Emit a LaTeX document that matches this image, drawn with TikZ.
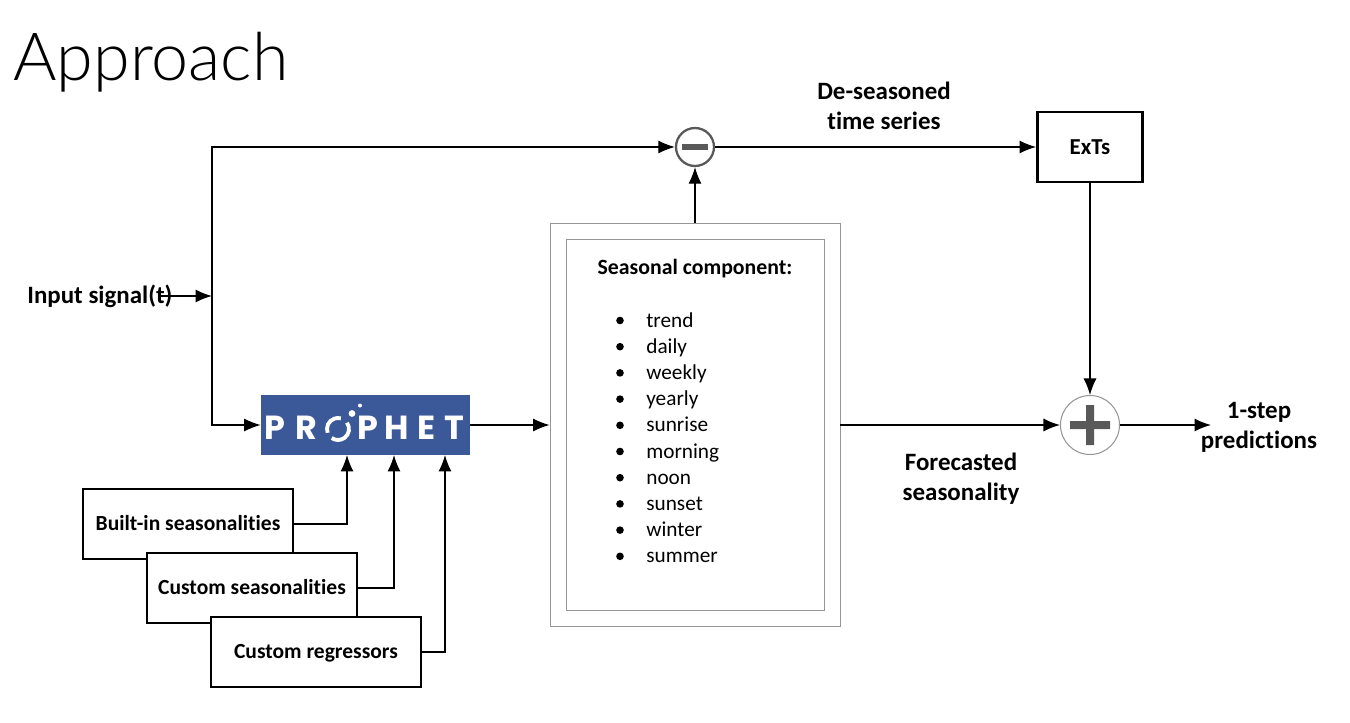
\documentclass[tikz,border=0pt]{standalone}
\usepackage{fontspec}
\setmainfont[Ligatures=NoCommon]{Carlito}
\newfontfamily\logofont{Poppins}
\newfontfamily\titlefont[UprightFont=* Light]{Lato}
\usetikzlibrary{arrows.meta, positioning, calc}
\definecolor{prophetblue}{RGB}{59,88,152}
\definecolor{signgray}{RGB}{89,89,89}
\definecolor{framegray}{RGB}{150,150,150}

\tikzset{
  flow/.style={draw=black, line width=0.7pt, -{Latex[length=3.3mm, width=2.6mm]}},
  inbox/.style={draw=black, line width=1.6pt, fill=white, minimum width=4.2cm, minimum height=1.4cm, text height=9.8pt, text depth=2pt, font=\fontsize{12.25}{14}\selectfont\bfseries},
  label/.style={font=\fontsize{14.2}{17}\selectfont\bfseries, align=center},
  frame/.style={draw=framegray, line width=0.5pt},
  logoletter/.style={text=white, inner sep=0pt, font=\fontsize{19}{18}\selectfont\logofont\bfseries},
  listitem/.style={anchor=base west, inner sep=0pt, font=\fontsize{12.1}{14}\selectfont}
}

\begin{document}
\begin{tikzpicture}[x=0.02cm, y=-0.02cm]
  \useasboundingbox (0,0) rectangle (1350,723);

  \node[anchor=base west, inner sep=0pt, font=\fontsize{37.8}{44}\selectfont\titlefont] (title) at (13,81) {Approach};

  % inputs
  \node[label, anchor=west, inner sep=0pt] (input) at (27,296) {Input signal(t)};
  \coordinate (start) at (160,296);
  \coordinate (split) at (212,296);

  % prophet block
  \node[fill=prophetblue, minimum width=4.18cm, minimum height=1.2cm, inner sep=0pt] (prophet) at (365.5,425) {};
  \foreach \letter/\xpos [count=\i] in {P/275, R/306, P/368, H/397, E/427, T/454}
    \node[logoletter] (letter\i) at (\xpos,428) {\letter};
  \draw[white, line width=2.2pt] (338,429) ++(160:11) arc (160:285:11);
  \draw[white, line width=2.2pt] (338,429) ++(-35:11) arc (-35:125:11);
  \fill[white] (352,413.5) circle (3.4) (360,405.5) circle (2);

  % regressor boxes
  \node[inbox] (builtin) at (188,524) {Built-in seasonalities};
  \node[inbox] (customseas) at (252,588) {Custom seasonalities};
  \node[inbox] (customreg) at (316,652) {Custom regressors};

  % seasonal component
  \node[frame, minimum width=5.8cm, minimum height=8.06cm] (outer) at (695,424.5) {};
  \node[frame, minimum width=5.16cm, minimum height=7.42cm] (inner) at (695,424.5) {};
  \node[font=\fontsize{12.4}{14}\selectfont\bfseries] (seasonal) at (695,268.5) {Seasonal component:};
  \foreach \name [count=\i from 0] in {trend, daily, weekly, yearly, sunrise, morning, noon, sunset, winter, summer} {
    \fill (620,320.5+26.2*\i) circle (3.8);
    \node[listitem] (item\i) at (646,327+26.2*\i) {\name};
  }

  % summing points
  \node[circle, draw=signgray, line width=1.3pt, fill=white, minimum size=0.76cm, inner sep=0pt] (minus) at (695,147) {};
  \fill[signgray] (682,144) rectangle (708,150);
  \node[circle, draw=framegray, line width=0.6pt, fill=white, minimum size=1.18cm, inner sep=0pt] (plus) at (1090,425) {};
  \fill[signgray] (1070,421) rectangle (1110,429) (1086,405) rectangle (1094,445);

  \node[draw=black, line width=1.6pt, minimum width=2.1cm, minimum height=1.4cm, font=\fontsize{13}{14}\selectfont\bfseries] (exts) at (1090,147) {ExTs};

  % labels
  \node[label] (deseason) at (884,106) {De-seasoned\\time series};
  \node[label] (forecast) at (961,478.5) {Forecasted\\seasonality};
  \node[label] (predict) at (1259,427) {1-step\\predictions};
  \coordinate (out) at (1211,425);

  % connectors
  \draw[flow] (start) -- (split);
  \draw[flow] (split) |- (minus);
  \draw[flow] (split) |- (prophet);
  \draw[flow] (outer.north) -- (minus);
  \draw[flow] (minus) -- (exts);
  \draw[flow] (exts) -- (plus);
  \draw[flow] (prophet) -- (outer.west |- prophet);
  \draw[flow] (outer.east |- plus) -- (plus);
  \draw[flow] (plus) -- (out);
  \draw[flow] (builtin.east) -| (347,455);
  \draw[flow] (customseas.east) -| (394,455);
  \draw[flow] (customreg.east) -| (445,455);
\end{tikzpicture}
\end{document}
